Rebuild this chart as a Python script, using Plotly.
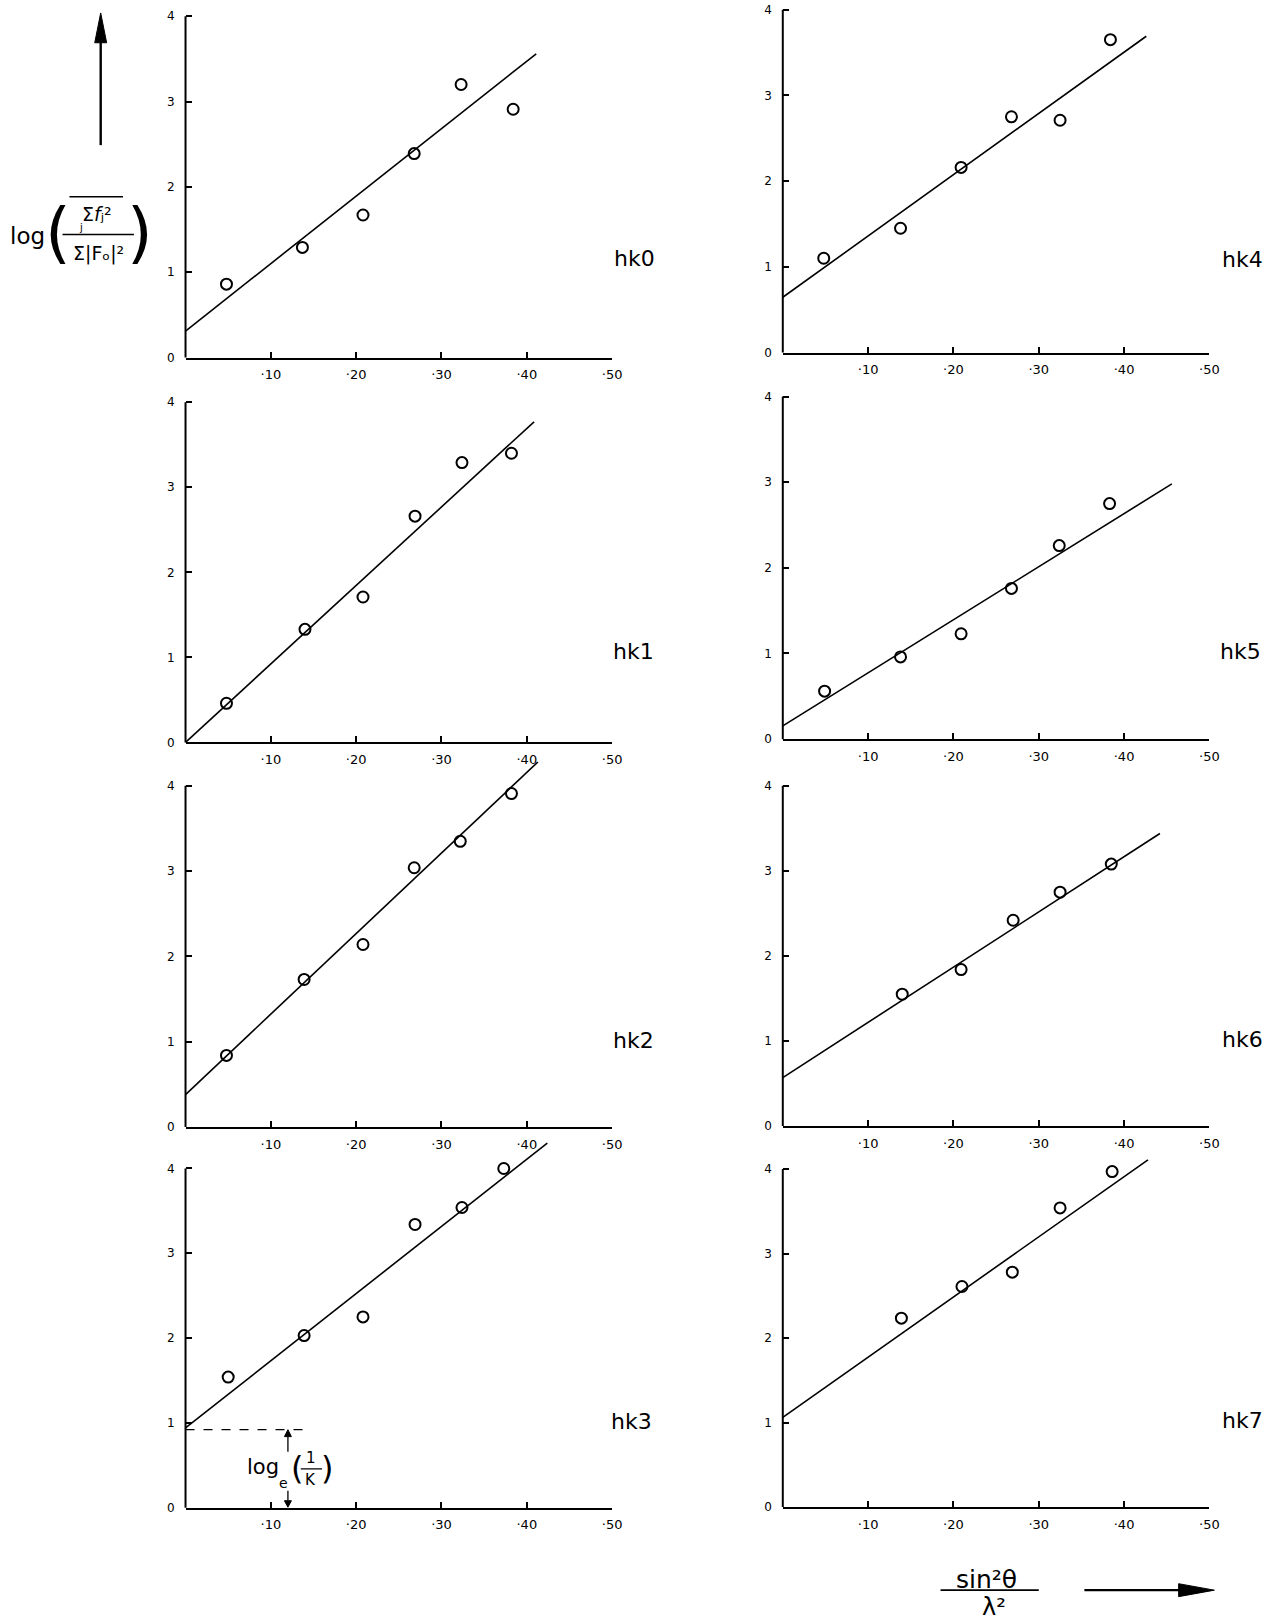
import plotly.graph_objects as go

W, H = 1270, 1624

# ---------------- data ----------------
panel_names = ["hk0", "hk1", "hk2", "hk3", "hk4", "hk5", "hk6", "hk7"]

hk0_x = [0.048, 0.137, 0.208, 0.268, 0.323, 0.384]
hk0_y = [0.86, 1.29, 1.67, 2.39, 3.20, 2.91]
hk1_x = [0.048, 0.140, 0.208, 0.269, 0.324, 0.382]
hk1_y = [0.46, 1.33, 1.71, 2.66, 3.29, 3.40]
hk2_x = [0.048, 0.139, 0.208, 0.268, 0.322, 0.382]
hk2_y = [0.84, 1.73, 2.14, 3.04, 3.35, 3.91]
hk3_x = [0.050, 0.139, 0.208, 0.269, 0.324, 0.373]
hk3_y = [1.54, 2.03, 2.25, 3.34, 3.54, 4.00]
hk4_x = [0.048, 0.138, 0.209, 0.268, 0.325, 0.384]
hk4_y = [1.10, 1.45, 2.16, 2.75, 2.71, 3.65]
hk5_x = [0.049, 0.138, 0.209, 0.268, 0.324, 0.383]
hk5_y = [0.56, 0.96, 1.23, 1.76, 2.26, 2.75]
hk6_x = [0.140, 0.209, 0.270, 0.325, 0.385]
hk6_y = [1.55, 1.84, 2.42, 2.75, 3.08]
hk7_x = [0.139, 0.210, 0.269, 0.325, 0.386]
hk7_y = [2.235, 2.61, 2.78, 3.54, 3.97]

# straight-line fits: [x start, x end], [y start, y end]
fit0_x, fit0_y = [0.0, 0.411], [0.31, 3.56]
fit1_x, fit1_y = [0.0, 0.4085], [0.0, 3.77]
fit2_x, fit2_y = [0.0, 0.413], [0.38, 4.28]
fit3_x, fit3_y = [0.0, 0.424], [0.94, 4.30]
fit4_x, fit4_y = [0.0, 0.426], [0.645, 3.69]
fit5_x, fit5_y = [0.0, 0.456], [0.155, 2.98]
fit6_x, fit6_y = [0.0, 0.442], [0.57, 3.44]
fit7_x, fit7_y = [0.0, 0.428], [1.06, 4.11]

# hk3 intercept construction log_e(1/K)
hk3_intercept = 0.92
hk3_dash_end = 0.141
hk3_arrow_x = 0.12

x_tickvals = [0.1, 0.2, 0.3, 0.4, 0.5]
x_ticktext = ["·10", "·20", "·30", "·40", "·50"]
y_tickvals = [0, 1, 2, 3, 4]
y_ticktext = ["0", "1", "2", "3", "4"]

points_x = [hk0_x, hk1_x, hk2_x, hk3_x, hk4_x, hk5_x, hk6_x, hk7_x]
points_y = [hk0_y, hk1_y, hk2_y, hk3_y, hk4_y, hk5_y, hk6_y, hk7_y]
fits_x = [fit0_x, fit1_x, fit2_x, fit3_x, fit4_x, fit5_x, fit6_x, fit7_x]
fits_y = [fit0_y, fit1_y, fit2_y, fit3_y, fit4_y, fit5_y, fit6_y, fit7_y]

# ---------------- layout geometry (pixels) ----------------
col_x = {0: (187, 617), 1: (789, 1219)}
# (pixel y of value 0, pixel y of value 4) per panel
rows_px = [(356.7, 13.3), (744, 401.7), (1131, 787.7), (1514, 1172.7),
           (351.7, 6.7), (740.7, 396), (1130, 787.7), (1513.3, 1173.3)]
row_ymax = [4.05, 4.4, 4.4, 4.4, 4.05, 4.4, 4.4, 4.4]
label_pos = [(1.052, 1.16), (1.05, 1.07), (1.05, 1.02), (1.045, 1.02),
             (1.078, 1.09), (1.073, 1.02), (1.078, 1.02), (1.078, 1.02)]

FONT = "DejaVu Sans"
fig = go.Figure()
layout = dict(width=W, height=H, margin=dict(l=0, r=0, t=0, b=0),
              paper_bgcolor="white", plot_bgcolor="white", showlegend=False,
              font=dict(family=FONT, color="black"))
shapes = []
annotations = []

for i in range(8):
    n = i + 1
    col = 0 if i < 4 else 1
    xa = "x" if n == 1 else f"x{n}"
    ya = "y" if n == 1 else f"y{n}"
    oy, t4 = rows_px[i]
    unit = (oy - t4) / 4.0
    ymax = row_ymax[i]
    top = oy - unit * ymax
    x0p, x1p = col_x[col]
    layout["xaxis" if n == 1 else f"xaxis{n}"] = dict(
        domain=[x0p / W, x1p / W], range=[0, 0.5], anchor=ya,
        showgrid=False, zeroline=False, showline=True, linecolor="black",
        linewidth=2, ticks="inside", ticklen=6, tickwidth=1.5, tickcolor="black",
        tickvals=x_tickvals, ticktext=x_ticktext,
        tickfont=dict(size=13, family=FONT), ticklabelstandoff=4)
    layout["yaxis" if n == 1 else f"yaxis{n}"] = dict(
        domain=[1 - oy / H, 1 - top / H], range=[0, ymax], anchor=xa,
        showgrid=False, zeroline=False, showline=False,
        ticks="inside", ticklen=6, tickwidth=1.5, tickcolor="black",
        tickvals=y_tickvals, ticktext=y_ticktext,
        tickfont=dict(size=12, family=FONT), ticklabelstandoff=10)
    # y axis line from 0 to 4
    shapes.append(dict(type="line", xref=f"{xa} domain", yref=f"{ya} domain",
                       x0=0, x1=0, y0=0, y1=4.0 / ymax,
                       line=dict(color="black", width=2)))
    fig.add_trace(go.Scatter(x=fits_x[i], y=fits_y[i], mode="lines",
                             line=dict(color="black", width=1.6),
                             xaxis=xa, yaxis=ya, hoverinfo="skip"))
    fig.add_trace(go.Scatter(x=points_x[i], y=points_y[i], mode="markers",
                             marker=dict(symbol="circle-open", size=11,
                                         color="black", line=dict(width=2)),
                             xaxis=xa, yaxis=ya, cliponaxis=False))
    lx, ly = label_pos[i]
    annotations.append(dict(text=panel_names[i], xref=f"{xa} domain", yref=f"{ya} domain",
                            x=lx, y=ly / ymax,
                            showarrow=False, xanchor="center", yanchor="middle",
                            font=dict(size=22, family=FONT)))

# ---- hk3 intercept construction (subplot 4) ----
shapes.append(dict(type="line", xref="x4", yref="y4", x0=0, x1=hk3_dash_end,
                   y0=hk3_intercept, y1=hk3_intercept,
                   line=dict(color="black", width=1.4, dash="dash")))
dxh, dyh = 3.5 / 860, 7 / 85.3
ax_ = hk3_arrow_x
shapes += [
    dict(type="line", xref="x4", yref="y4", x0=ax_, x1=ax_, y0=0.66,
         y1=hk3_intercept - dyh, line=dict(color="black", width=1.3)),
    dict(type="path", xref="x4", yref="y4", fillcolor="black",
         line=dict(color="black", width=1),
         path=f"M {ax_},{hk3_intercept} L {ax_ - dxh},{hk3_intercept - dyh} "
              f"L {ax_ + dxh},{hk3_intercept - dyh} Z"),
    dict(type="line", xref="x4", yref="y4", x0=ax_, x1=ax_, y0=0.2,
         y1=dyh, line=dict(color="black", width=1.3)),
    dict(type="path", xref="x4", yref="y4", fillcolor="black",
         line=dict(color="black", width=1),
         path=f"M {ax_},0.005 L {ax_ - dxh},{dyh} L {ax_ + dxh},{dyh} Z"),
]
annotations += [
    dict(text="log", x=0.091, y=0.48, xref="x4", yref="y4", showarrow=False,
         font=dict(size=21, family=FONT)),
    dict(text="e", x=0.1145, y=0.29, xref="x4", yref="y4", showarrow=False,
         font=dict(size=14, family=FONT)),
    dict(text="(", x=0.131, y=0.47, xref="x4", yref="y4", showarrow=False,
         font=dict(size=32, family=FONT)),
    dict(text=")", x=0.166, y=0.47, xref="x4", yref="y4", showarrow=False,
         font=dict(size=32, family=FONT)),
    dict(text="1", x=0.147, y=0.58, xref="x4", yref="y4", showarrow=False,
         font=dict(size=15, family=FONT)),
    dict(text="K", x=0.147, y=0.33, xref="x4", yref="y4", showarrow=False,
         font=dict(size=15, family=FONT)),
]
shapes.append(dict(type="line", xref="x4", yref="y4", x0=0.135, x1=0.160,
                   y0=0.457, y1=0.457, line=dict(color="black", width=1.4)))


def P(x, y):
    return x / W, 1 - y / H


def ptxt(text, x, y, size, xanchor="center"):
    px_, py_ = P(x, y)
    return dict(text=text, x=px_, y=py_, xref="paper", yref="paper",
                showarrow=False, xanchor=xanchor, yanchor="middle",
                font=dict(size=size, family=FONT))


def pline(x0, y0, x1, y1, width):
    a, b = P(x0, y0)
    c, d = P(x1, y1)
    return dict(type="line", xref="paper", yref="paper", x0=a, y0=b, x1=c, y1=d,
                line=dict(color="black", width=width))


def ptri(pts):
    s = []
    for k, (x, y) in enumerate(pts):
        a, b = P(x, y)
        s.append(("M " if k == 0 else "L ") + f"{a},{b}")
    return dict(type="path", xref="paper", yref="paper", fillcolor="black",
                line=dict(color="black", width=1), path=" ".join(s) + " Z")


# ---- y-axis label at upper left ----
annotations += [
    ptxt("log", 28, 234, 23),
    ptxt("(", 58, 231, 66),
    ptxt(")", 141, 231, 66),
    ptxt("Σ<i>f</i>ⱼ²", 98, 212, 19),
    ptxt("j", 82, 226, 10),
    ptxt("Σ|Fₒ|²", 99, 252, 19),
    ptxt("sin²θ", 994, 1586, 25),
    ptxt("λ²", 1002, 1614, 24),
]
shapes += [
    pline(63, 233, 135, 233, 1.6),      # fraction bar
    pline(70, 195, 124, 195, 1.4),      # overline on numerator
    pline(948, 1597, 1047, 1597, 1.8),  # fraction bar sin^2θ/λ^2
    # up arrow
    pline(101.5, 143, 101.5, 36, 2.4),
    ptri([(101.5, 10), (95.5, 40), (107.5, 40)]),
    # right arrow
    pline(1093, 1597, 1192, 1597, 2.4),
    ptri([(1224, 1597), (1188, 1590.5), (1188, 1603.5)]),
]

layout["shapes"] = shapes
layout["annotations"] = annotations
fig.update_layout(**layout)
fig.write_html("out.html", config={"displayModeBar": False},
               post_script="document.body.style.margin='0';")
